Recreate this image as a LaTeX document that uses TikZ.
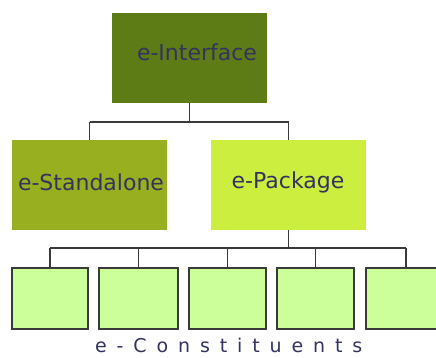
\documentclass[tikz,border=0pt]{standalone}
\usepackage{fontspec}
\setmainfont{DejaVu Sans}
\definecolor{topc}{HTML}{5E7C16}
\definecolor{stdc}{HTML}{98B020}
\definecolor{pkgc}{HTML}{CCEE3E}
\definecolor{leafc}{HTML}{CCFF99}
\definecolor{txtc}{HTML}{33335E}
\definecolor{linec}{HTML}{3A3A3A}
\begin{document}
\begin{tikzpicture}[x=1pt,y=-1pt,
  box/.style={draw=none,inner sep=0,outer sep=0,minimum width=155pt,minimum height=90pt,anchor=north west},
  leaf/.style={draw=linec,line width=1.2pt,fill=leafc,inner sep=0,outer sep=0,minimum width=76pt,minimum height=61pt,anchor=north west},
  lbl/.style={font=\fontsize{22}{25}\selectfont,text=txtc,inner sep=0},
  conn/.style={draw=linec,line width=1.3pt}]
\useasboundingbox (0,0) rectangle (436,358);
\fill[white] (0,0) rectangle (436,358);
\node[box,fill=topc] (top) at (112,13) {};
\node[box,fill=stdc] (std) at (12,140) {};
\node[box,fill=pkgc] (pkg) at (211,140) {};
\node[lbl] (ti) at (197,52) {e-Interface};
\node[lbl] (ts) at (91,182) {e-Standalone};
\node[lbl] (tp) at (288,182) {e-Package};
\node[leaf] (l1) at (12,268) {};
\node[leaf,minimum width=79pt] (l2) at (99,268) {};
\node[leaf,minimum width=77pt] (l3) at (189,268) {};
\node[leaf,minimum width=77pt] (l4) at (277,268) {};
\node[leaf,minimum width=80pt] (l5) at (366,268) {};
\coordinate (h1) at (0,122);
\coordinate (h2) at (0,248);
\draw[conn] (top.south) -- (top.south |- h1);
\draw[conn] (std.north |- h1) -- (pkg.north |- h1);
\draw[conn] (std.north |- h1) -- (std.north);
\draw[conn] (pkg.north |- h1) -- (pkg.north);
\draw[conn] (pkg.south) -- (pkg.south |- h2);
\draw[conn] (l1.north |- h2) -- (l5.north |- h2);
\foreach \n in {l1,l2,l3,l4,l5}{
  \draw[conn] (\n.north |- h2) -- (\n.north);
}
\node[anchor=west,inner sep=0,text=txtc,font=\fontsize{19}{22}\selectfont\addfontfeature{LetterSpace=52}] (cap) at (95,345) {e-Constituents};
\end{tikzpicture}
\end{document}
